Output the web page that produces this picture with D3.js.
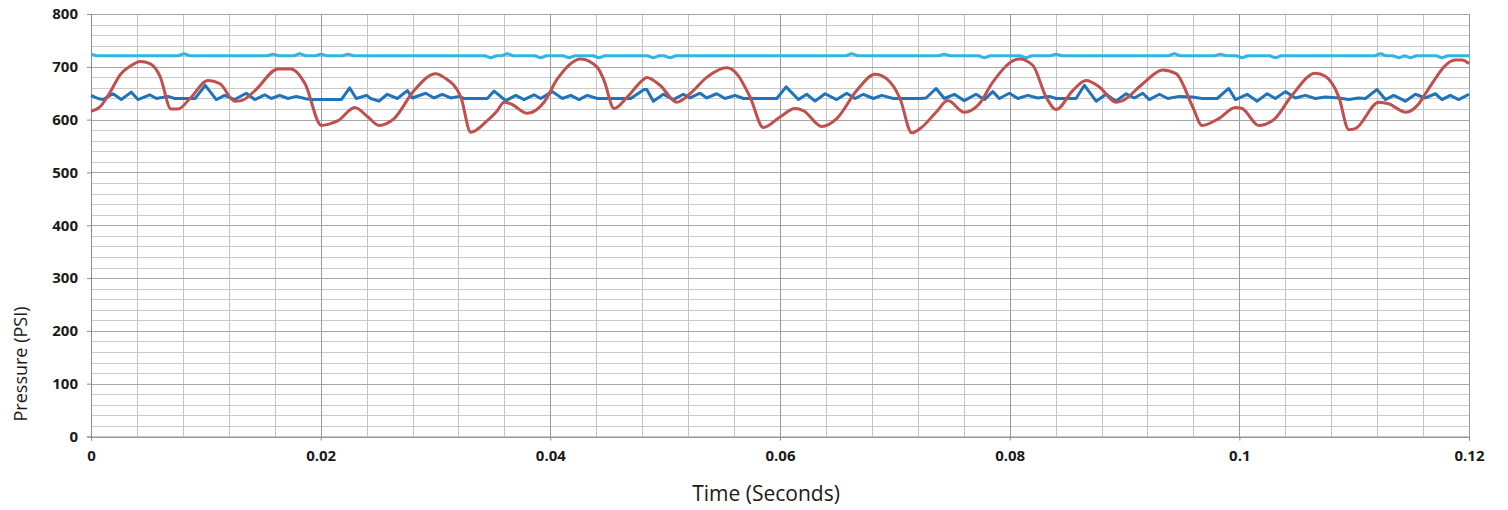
<!DOCTYPE html>
<html>
<head>
<meta charset="utf-8">
<script src="https://cdn.jsdelivr.net/npm/d3@7"></script>
<style>
  html, body { margin: 0; padding: 0; background: #fff; }
  svg { display: block; }
</style>
</head>
<body>
<div id="chart"></div>
<script>
// time in milliseconds, pressure in PSI
const redTime = [0, 0.78, 1.48, 2.61, 3.48, 4.27, 5.14, 6.01, 6.97, 7.58, 8.62, 10.19, 11.23, 12.51, 13.09, 14.28, 16.29, 17.42, 18.64, 20.06,
  20.64, 21.51, 22.97, 24.12, 25.08, 26.39, 28.13, 30.02, 30.74, 32.2, 33.07, 34.51, 35.38, 35.97, 36.55, 37.99, 39.45, 40.61, 42.65, 44.09,
  44.68, 45.55, 46.71, 48.16, 48.4, 49.55, 51.01, 52.16, 53.62, 55.36, 56.23, 57.39, 58.55, 60.0, 61.31, 62.03, 63.64, 64.94, 66.68, 68.28,
  69.3, 70.45, 71.47, 72.2, 73.59, 74.61, 76.05, 77.36, 78.53, 80.84, 82.01, 83.17, 84.04, 85.49, 86.65, 87.81, 89.26, 89.84, 91.59, 93.33,
  94.49, 95.94, 96.76, 98.21, 99.66, 100.24, 101.69, 103.0, 104.59, 106.62, 107.49, 108.66, 109.53, 110.1, 112.14, 113.01, 114.46, 115.63, 116.2, 118.81,
  119.39, 120.0];
const redValues = [616, 624, 645, 687, 702, 710, 706, 682, 620, 620, 640, 674, 668, 635, 636, 655, 696, 696, 668, 589,
  591, 598, 623, 605, 589, 602, 655, 687, 680, 643, 576, 598, 617, 633, 630, 612, 633, 677, 715, 699,
  674, 621, 643, 677, 680, 665, 633, 649, 680, 698, 687, 643, 585, 605, 621, 617, 587, 602, 655, 686,
  677, 640, 575, 583, 614, 636, 614, 630, 671, 715, 703, 643, 619, 655, 674, 662, 633, 636, 668, 694,
  687, 624, 589, 602, 623, 621, 589, 600, 646, 688, 682, 643, 581, 583, 633, 630, 614, 630, 649, 713,
  713, 706];

const blueTime = [0, 0.61, 1.05, 1.92, 2.64, 3.51, 4.09, 5.11, 5.69, 6.71, 7.29, 9.06, 9.95, 10.91, 11.64, 12.51, 13.52, 14.26, 15.13, 15.7,
  16.43, 17.16, 17.88, 18.61, 19.16, 21.8, 22.53, 23.1, 24.0, 24.36, 25.08, 25.8, 26.68, 27.55, 27.98, 29.15, 29.87, 30.59, 31.33, 32.05,
  32.48, 34.51, 35.1, 36.12, 36.99, 37.71, 38.58, 39.16, 40.17, 41.05, 41.78, 42.5, 43.22, 44.09, 47.0, 48.16, 48.4, 48.97, 49.84, 50.71,
  51.58, 52.16, 53.04, 53.62, 54.49, 55.21, 56.09, 56.81, 59.72, 60.53, 61.6, 62.33, 63.05, 63.92, 64.94, 65.81, 66.54, 67.26, 68.13, 68.86,
  69.87, 72.2, 72.72, 73.59, 74.31, 75.18, 76.05, 77.07, 77.8, 78.53, 79.1, 79.97, 80.71, 81.58, 82.45, 83.46, 84.04, 85.78, 86.51, 87.53,
  88.4, 89.26, 90.14, 90.86, 91.59, 92.16, 93.04, 93.77, 94.78, 95.9, 96.76, 98.07, 99.08, 99.66, 100.68, 101.55, 102.42, 103.14, 104.01, 104.88,
  105.75, 106.62, 107.49, 108.66, 109.53, 110.4, 110.98, 111.99, 112.72, 113.45, 114.46, 115.33, 116.2, 117.07, 117.65, 118.37, 119.1, 120.0];
const blueValues = [646, 640, 638, 649, 638, 652, 638, 647, 640, 644, 640, 640, 665, 638, 646, 638, 650, 638, 647, 640,
  646, 640, 644, 640, 638, 638, 660, 640, 646, 640, 635, 648, 640, 655, 641, 650, 641, 648, 641, 644,
  640, 640, 654, 636, 646, 638, 647, 640, 653, 640, 646, 638, 646, 640, 640, 657, 657, 635, 648, 638,
  648, 641, 650, 641, 649, 640, 646, 640, 640, 662, 638, 648, 635, 649, 638, 650, 640, 648, 640, 646,
  640, 640, 641, 659, 640, 648, 636, 648, 638, 653, 640, 650, 640, 646, 641, 644, 640, 640, 665, 635,
  648, 635, 649, 641, 650, 638, 648, 640, 644, 643, 640, 640, 659, 638, 648, 635, 649, 640, 653, 641,
  646, 640, 643, 641, 638, 641, 640, 657, 638, 646, 635, 648, 641, 649, 638, 646, 638, 648];

const cyanTime = [0, 0.5, 7.6, 8.1, 8.6, 15.35, 15.85, 16.35, 17.68, 18.18, 18.68, 19.53, 20.03, 20.53, 21.88, 22.38, 22.88,
  34.31, 34.81, 35.31, 35.76, 36.26, 36.76, 38.66, 39.16, 39.66, 41.13, 41.63, 42.13, 43.74, 44.24, 44.74,
  48.47, 48.97, 49.47, 49.93, 50.43, 50.93, 65.75, 66.25, 66.75, 73.81, 74.31, 74.81, 77.3, 77.8, 78.3,
  80.93, 81.43, 81.93, 83.54, 84.04, 84.54, 93.84, 94.34, 94.84, 97.85, 98.35, 98.85, 99.74, 100.24, 100.74,
  102.64, 103.14, 103.64, 111.79, 112.29, 112.79, 113.39, 113.89, 114.39, 114.4, 114.9, 115.4, 117.15, 117.65, 118.15, 120.0];
const cyanValues = [724, 721, 721, 725, 721, 721, 724, 721, 721, 725, 721, 721, 724, 721, 721, 724, 721,
  721, 717, 721, 721, 725, 721, 721, 717, 721, 721, 717, 721, 721, 717, 721,
  721, 717, 721, 721, 717, 721, 721, 725, 721, 721, 724, 721, 721, 717, 721,
  721, 717, 721, 721, 724, 721, 721, 725, 721, 721, 724, 721, 721, 717, 721,
  721, 717, 721, 721, 725, 721, 721, 717, 721, 721, 717, 721, 721, 717, 721, 721];

const xTicks = [0, 0.02, 0.04, 0.06, 0.08, 0.1, 0.12];
const yTicks = [0, 100, 200, 300, 400, 500, 600, 700, 800];

const series = [
  { name: "supply", time: cyanTime, values: cyanValues, color: "#2fb6e6", curve: d3.curveLinear },
  { name: "line", time: blueTime, values: blueValues, color: "#1f73bb", curve: d3.curveLinear },
  { name: "pump", time: redTime, values: redValues, color: "#c0504d", curve: d3.curveMonotoneX }
];

// Dimensions
const W = 1508, H = 510;
const margin = { top: 14, right: 39, bottom: 73.5, left: 91 };
const width = W - margin.left - margin.right;
const height = H - margin.top - margin.bottom;

const svg = d3.select("#chart")
  .append("svg")
  .attr("width", W)
  .attr("height", H);

const g = svg.append("g")
  .attr("transform", `translate(${margin.left},${margin.top})`);

const x = d3.scaleLinear().domain([0, 0.12]).range([0, width]);
const y = d3.scaleLinear().domain([0, 800]).range([height, 0]);

// Minor grid
const minorX = d3.range(0, 31).map(i => i * 0.004);
const minorY = d3.range(0, 41).map(i => i * 20);

g.append("g")
  .selectAll("line")
  .data(minorY)
  .enter()
  .append("line")
  .attr("x1", 0)
  .attr("x2", width)
  .attr("y1", d => Math.round(y(d)) + 0.5)
  .attr("y2", d => Math.round(y(d)) + 0.5)
  .attr("stroke", "#cbcbcb")
  .attr("stroke-width", 1);

g.append("g")
  .selectAll("line")
  .data(minorX)
  .enter()
  .append("line")
  .attr("x1", d => Math.round(x(d)) + 0.5)
  .attr("x2", d => Math.round(x(d)) + 0.5)
  .attr("y1", 0)
  .attr("y2", height)
  .attr("stroke", "#c4c4c4")
  .attr("stroke-width", 1);

// Major grid
g.append("g")
  .selectAll("line")
  .data(yTicks)
  .enter()
  .append("line")
  .attr("x1", 0)
  .attr("x2", width)
  .attr("y1", d => Math.round(y(d)) + 0.5)
  .attr("y2", d => Math.round(y(d)) + 0.5)
  .attr("stroke", "#a6a6a6")
  .attr("stroke-width", 1);

g.append("g")
  .selectAll("line")
  .data(xTicks)
  .enter()
  .append("line")
  .attr("x1", d => Math.round(x(d)) + 0.5)
  .attr("x2", d => Math.round(x(d)) + 0.5)
  .attr("y1", 0)
  .attr("y2", height)
  .attr("stroke", "#9a9a9a")
  .attr("stroke-width", 1);

// Axes
const yAxis = g.append("g")
  .call(d3.axisLeft(y).tickValues(yTicks).tickSize(4).tickPadding(9));

const xAxis = g.append("g")
  .attr("transform", `translate(0,${height})`)
  .call(d3.axisBottom(x).tickValues(xTicks).tickSize(4).tickPadding(10)
    .tickFormat(d => d3.format("~g")(+d.toFixed(3))));

[yAxis, xAxis].forEach(a => {
  a.select(".domain").attr("stroke", "#8c8c8c");
  a.selectAll(".tick line").attr("stroke", "#8c8c8c");
  a.selectAll("text")
    .style("font-family", "'Open Sans', sans-serif")
    .style("font-weight", "bold")
    .style("font-size", "15px")
    .attr("fill", "#1a1a1a");
});

// Lines
series.forEach(s => {
  const line = d3.line()
    .x(d => x(d[0] / 1000))
    .y(d => y(d[1]))
    .curve(s.curve);
  const pts = s.time.map((t, i) => [t, s.values[i]]);
  g.append("path")
    .datum(pts)
    .attr("fill", "none")
    .attr("stroke", s.color)
    .attr("stroke-width", 3)
    .attr("stroke-linejoin", "round")
    .attr("d", line);
});

// Axis titles
svg.append("text")
  .attr("x", 766)
  .attr("y", 501)
  .attr("text-anchor", "middle")
  .style("font-family", "'Open Sans', sans-serif")
  .style("font-size", "21px")
  .attr("fill", "#1a1a1a")
  .text("Time (Seconds)");

svg.append("text")
  .attr("transform", "rotate(-90)")
  .attr("x", -364)
  .attr("y", 27)
  .attr("text-anchor", "middle")
  .style("font-family", "'Open Sans', sans-serif")
  .style("font-size", "18px")
  .attr("fill", "#1a1a1a")
  .text("Pressure (PSI)");
</script>
</body>
</html>
